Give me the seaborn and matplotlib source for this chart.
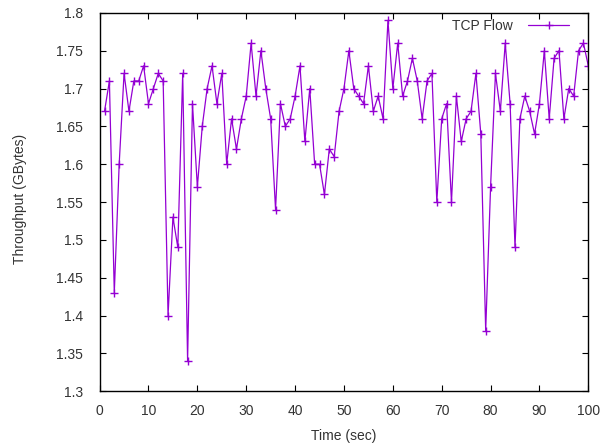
import matplotlib
matplotlib.use("Agg")
import matplotlib.pyplot as plt
import seaborn as sns
import pandas as pd

time_sec = list(range(1, 101))
throughput = [
    1.67, 1.71, 1.43, 1.60, 1.72, 1.67, 1.71, 1.71, 1.73, 1.68,
    1.70, 1.72, 1.71, 1.40, 1.53, 1.49, 1.72, 1.34, 1.68, 1.57,
    1.65, 1.70, 1.73, 1.68, 1.72, 1.60, 1.66, 1.62, 1.66, 1.69,
    1.76, 1.69, 1.75, 1.70, 1.66, 1.54, 1.68, 1.65, 1.66, 1.69,
    1.73, 1.63, 1.70, 1.60, 1.60, 1.56, 1.62, 1.61, 1.67, 1.70,
    1.75, 1.70, 1.69, 1.68, 1.73, 1.67, 1.69, 1.66, 1.79, 1.70,
    1.76, 1.69, 1.71, 1.74, 1.71, 1.66, 1.71, 1.72, 1.55, 1.66,
    1.68, 1.55, 1.69, 1.63, 1.66, 1.67, 1.72, 1.64, 1.38, 1.57,
    1.72, 1.67, 1.76, 1.68, 1.49, 1.66, 1.69, 1.67, 1.64, 1.68,
    1.75, 1.66, 1.74, 1.75, 1.66, 1.70, 1.69, 1.75, 1.76, 1.73,
]
x_ticks = [0, 10, 20, 30, 40, 50, 60, 70, 80, 90, 100]
y_ticks = [1.3, 1.35, 1.4, 1.45, 1.5, 1.55, 1.6, 1.65, 1.7, 1.75, 1.8]
y_tick_labels = ["1.3", "1.35", "1.4", "1.45", "1.5", "1.55", "1.6", "1.65", "1.7", "1.75", "1.8"]
series_name = "TCP Flow"

sns.set_theme(style="ticks")
plt.rcParams['font.family'] = ['Liberation Sans', 'DejaVu Sans']

df = pd.DataFrame({"Time (sec)": time_sec, "Throughput (GBytes)": throughput})

fig = plt.figure(figsize=(6.15, 4.44), dpi=100)
ax = fig.add_axes([0.162, 0.119, 0.7946, 0.852])

color = "#9400D3"
sns.lineplot(data=df, x="Time (sec)", y="Throughput (GBytes)", ax=ax,
             color=color, linewidth=0.9, marker="+", markersize=5.5,
             markeredgewidth=1.0, markeredgecolor=color, label=series_name)

ax.set_xlim(0, 100)
ax.set_ylim(1.3, 1.8)
ax.set_xticks(x_ticks)
ax.set_yticks(y_ticks)
ax.set_yticklabels(y_tick_labels)
ax.tick_params(direction="in", length=4.5, width=0.8, top=True, right=True,
               labelsize=10, colors="black", labelcolor="#333333")
ax.tick_params(axis="y", pad=12)
ax.tick_params(axis="x", pad=9)
for s in ax.spines.values():
    s.set_visible(True)
    s.set_color("black")
    s.set_linewidth(1.0)
ax.set_xlabel("Time (sec)", fontsize=10, color="#333333", labelpad=8)
ax.set_ylabel("Throughput (GBytes)", fontsize=10, color="#333333")
ax.yaxis.set_label_coords(-0.148, 0.508)

leg = ax.legend(loc="upper right", bbox_to_anchor=(0.9726, 0.998),
                frameon=False, markerfirst=False, fontsize=10,
                handlelength=3.0, borderaxespad=0.0, handletextpad=1.05)
for t in leg.get_texts():
    t.set_color("#333333")

fig.savefig("out.png", dpi=100)
